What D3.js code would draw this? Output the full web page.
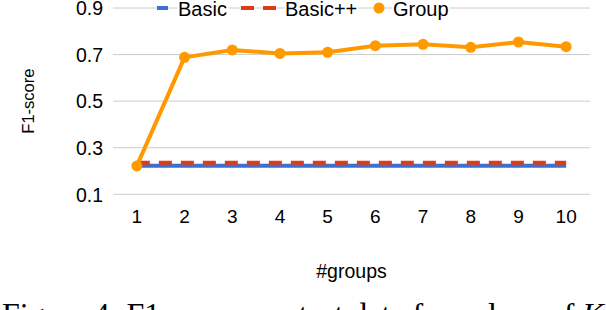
<!DOCTYPE html>
<html>
<head>
<meta charset="utf-8">
<script src="https://cdn.jsdelivr.net/npm/d3@7/dist/d3.min.js"></script>
<style>
  body { margin: 0; background: #fff; }
  svg { display: block; }
  .axis text { font-family: "Liberation Sans", Arial, sans-serif; }
</style>
</head>
<body>
<div id="chart"></div>
<script>
// --- data ---
const groups = [1, 2, 3, 4, 5, 6, 7, 8, 9, 10];
const groupScores = [0.222, 0.688, 0.72, 0.705, 0.71, 0.738, 0.744, 0.731, 0.754, 0.734];
const basicScores = [0.223, 0.223, 0.223, 0.223, 0.223, 0.223, 0.223, 0.223, 0.223, 0.223];
const basicPPScores = [0.236, 0.236, 0.236, 0.236, 0.236, 0.236, 0.236, 0.236, 0.236, 0.236];
const yTicks = [0.1, 0.3, 0.5, 0.7, 0.9];
const seriesNames = ['Basic', 'Basic++', 'Group'];

const W = 606, H = 310;
const margin = { top: 8, right: 16, bottom: 116, left: 113 };

const svg = d3.select('#chart').append('svg')
  .attr('width', W).attr('height', H);

const x = d3.scaleBand()
  .domain(groups)
  .range([margin.left, W - margin.right]);

const y = d3.scaleLinear()
  .domain([0.1, 0.9])
  .range([194.3, margin.top]);

const cx = d => x(d) + x.bandwidth() / 2;

// gridlines
svg.append('g')
  .selectAll('line')
  .data(yTicks)
  .enter().append('line')
  .attr('x1', margin.left).attr('x2', W - margin.right)
  .attr('y1', d => y(d)).attr('y2', d => y(d))
  .attr('stroke', '#cccccc').attr('stroke-width', 1);

// y axis labels
const yAxis = d3.axisLeft(y).tickValues(yTicks).tickFormat(d3.format('.1f')).tickSize(0).tickPadding(10);
svg.append('g')
  .attr('class', 'axis')
  .attr('transform', `translate(${margin.left},0.5)`)
  .call(yAxis)
  .call(g => g.select('.domain').remove())
  .selectAll('text')
  .attr('font-size', 19.5).attr('fill', '#000');

// x axis labels
const xAxis = d3.axisBottom(x).tickSize(0).tickPadding(0);
svg.append('g')
  .attr('class', 'axis')
  .attr('transform', `translate(0,209)`)
  .call(xAxis)
  .call(g => g.select('.domain').remove())
  .selectAll('text')
  .attr('font-size', 19).attr('fill', '#000');

// axis titles
svg.append('text')
  .attr('transform', `translate(34,${(y(0.1) + y(0.9)) / 2}) rotate(-90)`)
  .attr('text-anchor', 'middle')
  .attr('font-family', '"Liberation Sans", Arial, sans-serif')
  .attr('font-size', 16.5)
  .text('F1-score');

svg.append('text')
  .attr('x', 351.5).attr('y', 278)
  .attr('text-anchor', 'middle')
  .attr('font-family', '"Liberation Sans", Arial, sans-serif')
  .attr('font-size', 19.5)
  .text('#groups');

// lines
const line = d3.line()
  .x((d, i) => cx(groups[i]))
  .y(d => y(d));

svg.append('path')
  .datum(basicScores)
  .attr('d', line)
  .attr('fill', 'none')
  .attr('stroke', '#3c6fd4')
  .attr('stroke-width', 4);

svg.append('path')
  .datum(basicPPScores)
  .attr('d', line)
  .attr('fill', 'none')
  .attr('stroke', '#dc3d17')
  .attr('stroke-width', 4)
  .attr('stroke-dasharray', '13,9');

svg.append('path')
  .datum(groupScores)
  .attr('d', line)
  .attr('fill', 'none')
  .attr('stroke', '#ff9900')
  .attr('stroke-width', 4)
  .attr('stroke-linejoin', 'round');

svg.append('g')
  .selectAll('circle')
  .data(groupScores)
  .enter().append('circle')
  .attr('cx', (d, i) => cx(groups[i]))
  .attr('cy', d => y(d))
  .attr('r', 5.5)
  .attr('fill', '#ff9900');

// legend
const legend = svg.append('g')
  .attr('font-family', '"Liberation Sans", Arial, sans-serif')
  .attr('font-size', 20);

legend.append('line')
  .attr('x1', 157).attr('x2', 168).attr('y1', 8).attr('y2', 8)
  .attr('stroke', '#3c6fd4').attr('stroke-width', 4);
legend.append('text').attr('x', 178).attr('y', 15.5).text(seriesNames[0])
  .style('paint-order', 'stroke').attr('stroke', '#fff').attr('stroke-width', 4);

legend.append('line')
  .attr('x1', 241).attr('x2', 277).attr('y1', 8).attr('y2', 8)
  .attr('stroke', '#dc3d17').attr('stroke-width', 4)
  .attr('stroke-dasharray', '13,9');
legend.append('text').attr('x', 285).attr('y', 15.5).text(seriesNames[1])
  .style('paint-order', 'stroke').attr('stroke', '#fff').attr('stroke-width', 4);

legend.append('circle').attr('cx', 379).attr('cy', 8).attr('r', 5.5).attr('fill', '#ff9900');
legend.append('text').attr('x', 393).attr('y', 15.5).text(seriesNames[2])
  .style('paint-order', 'stroke').attr('stroke', '#fff').attr('stroke-width', 4);

// caption (cut off at the bottom like the source)
const cap = svg.append('text')
  .attr('x', 2).attr('y', 324.5)
  .attr('font-family', '"Liberation Serif", "Times New Roman", serif')
  .attr('font-size', 32);
cap.append('tspan').text('Figure 4: F1-scores on test data for values of ');
cap.append('tspan').attr('font-style', 'italic').text('K');
</script>
</body>
</html>
